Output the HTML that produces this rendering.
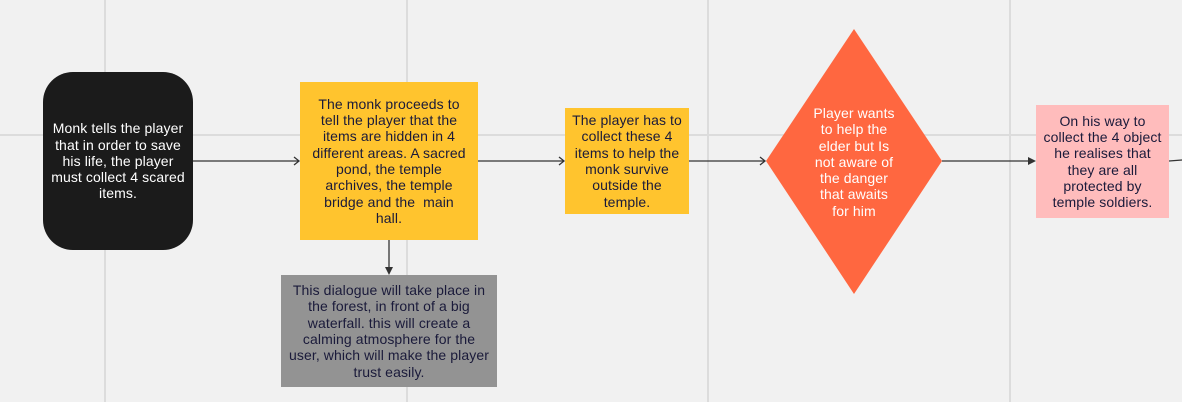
<!DOCTYPE html>
<html><head><style>
body{margin:0;width:1182px;height:402px;background:#f1f1f1;position:relative;overflow:hidden;font-family:"Liberation Sans",sans-serif;font-size:14px;line-height:16.3px}
.g{position:absolute;background:#dcdcdc}
.b{position:absolute;display:flex;align-items:center;justify-content:center;text-align:center;box-sizing:border-box;white-space:nowrap;letter-spacing:0.1px}
</style></head><body>
<div class="g" style="left:104px;top:0;width:2px;height:402px"></div>
<div class="g" style="left:406px;top:0;width:2px;height:402px"></div>
<div class="g" style="left:707px;top:0;width:2px;height:402px"></div>
<div class="g" style="left:1009px;top:0;width:2px;height:402px"></div>
<div class="g" style="left:0;top:134px;width:1182px;height:2px"></div>
<svg width="1182" height="402" style="position:absolute;left:0;top:0">
<polygon points="854,29 942,161 854,294 766,161" fill="#ff6740"/>
<g stroke="#333" stroke-width="1.3" fill="none">
<line x1="193" y1="161" x2="299" y2="161"/><polyline points="294,157 299,161 294,165"/>
<line x1="478" y1="161" x2="564" y2="161"/><polyline points="559,157 564,161 559,165"/>
<line x1="689" y1="161" x2="765" y2="161"/><polyline points="760,157 765,161 760,165"/>
<line x1="942" y1="161" x2="1030" y2="161"/>
<line x1="389" y1="240" x2="389" y2="268"/>
<line x1="1169" y1="161" x2="1182" y2="160"/>
</g>
<polygon points="1036,161 1028,157 1028,165" fill="#333"/>
<polygon points="389,275 385,267 393,267" fill="#333"/>
</svg>
<div class="b" style="left:43px;top:72px;width:150px;height:178px;background:#1b1b1b;border-radius:30px;color:#fff">Monk tells the player<br>that in order to save<br>his life, the player<br>must collect 4 scared<br>items.</div>
<div class="b" style="left:300px;top:82px;width:178px;height:158px;background:#ffc42e;color:#1a1a3a">The monk proceeds to<br>tell the player that the<br>items are hidden in 4<br>different areas. A sacred<br>pond, the temple<br>archives, the temple<br>bridge and the &nbsp;main<br>hall.</div>
<div class="b" style="left:281px;top:275px;width:216px;height:112px;background:#939393;color:#1a1a3a">This dialogue will take place in<br>the forest, in front of a big<br>waterfall. this will create a<br>calming atmosphere for the<br>user, which will make the player<br>trust easily.</div>
<div class="b" style="left:565px;top:108px;width:124px;height:106px;background:#ffc42e;color:#1a1a3a">The player has to<br>collect these 4<br>items to help the<br>monk survive<br>outside the<br>temple.</div>
<div class="b" style="left:808px;top:112px;width:92px;height:100px;color:#fff">Player wants<br>to help the<br>elder but Is<br>not aware of<br>the danger<br>that awaits<br>for him</div>
<div class="b" style="left:1036px;top:105px;width:133px;height:113px;background:#ffbcbc;color:#1a1a3a">On his way to<br>collect the 4 object<br>he realises that<br>they are all<br>protected by<br>temple soldiers.</div>
</body></html>
